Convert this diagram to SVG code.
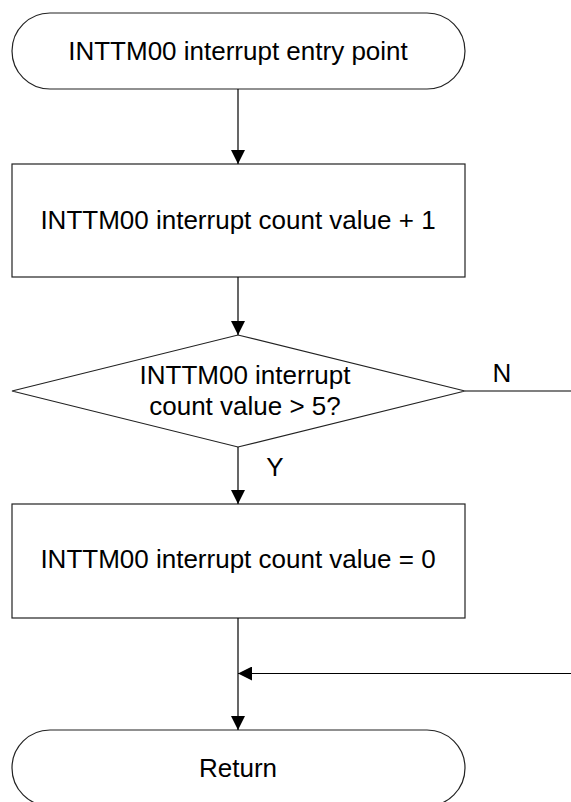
<svg xmlns="http://www.w3.org/2000/svg" width="571" height="802" viewBox="0 0 571 802">
  <defs>
    <marker id="arr" viewBox="0 0 14 14" refX="14" refY="7" markerWidth="14" markerHeight="14" markerUnits="userSpaceOnUse" orient="auto">
      <path d="M0,0 L14,7 L0,14 Z" fill="#000"/>
    </marker>
  </defs>
  <style>
    .shape { fill: #fff; stroke: #222; stroke-width: 1.2; }
    .conn { fill: none; stroke: #000; stroke-width: 1.2; }
    .lbl { font-family: "Liberation Sans", Arial, sans-serif; font-size: 26px; fill: #000; text-anchor: middle; }
  </style>
  <rect width="571" height="802" fill="#fff"/>
  <g id="start">
    <rect class="shape" x="12" y="13" width="453" height="76" rx="38" ry="38"/>
    <text class="lbl" x="238" y="60">INTTM00 interrupt entry point</text>
  </g>
  <g id="increment">
    <rect class="shape" x="12" y="164" width="453" height="113"/>
    <text class="lbl" x="238" y="229">INTTM00 interrupt count value + 1</text>
  </g>
  <g id="decision">
    <polygon class="shape" points="12,391 238,335 465,391 238,447"/>
    <text class="lbl" x="245" y="384">INTTM00 interrupt</text>
    <text class="lbl" x="245" y="415">count value &gt; 5?</text>
  </g>
  <g id="reset">
    <rect class="shape" x="12" y="504" width="453" height="114"/>
    <text class="lbl" x="238" y="568">INTTM00 interrupt count value = 0</text>
  </g>
  <g id="return">
    <rect class="shape" x="12" y="730" width="453" height="76" rx="38" ry="38"/>
    <text class="lbl" x="238" y="777">Return</text>
  </g>
  <g id="connectors">
    <line class="conn" x1="238" y1="89" x2="238" y2="164" marker-end="url(#arr)"/>
    <line class="conn" x1="238" y1="277" x2="238" y2="335" marker-end="url(#arr)"/>
    <line class="conn" x1="238" y1="447" x2="238" y2="504" marker-end="url(#arr)"/>
    <line class="conn" x1="238" y1="618" x2="238" y2="730" marker-end="url(#arr)"/>
    <line class="conn" x1="465" y1="391" x2="571" y2="391"/>
    <line class="conn" x1="571" y1="673.5" x2="238" y2="673.5" marker-end="url(#arr)"/>
    <text class="lbl" x="502" y="382">N</text>
    <text class="lbl" x="275" y="476">Y</text>
  </g>
</svg>
